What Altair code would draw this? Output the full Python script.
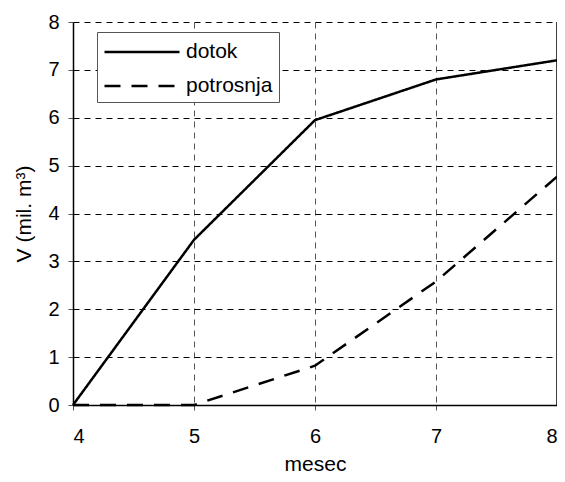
import altair as alt
import pandas as pd

meseci = [4, 5, 6, 7, 8]
dotok = [0, 3.45, 5.95, 6.8, 7.2]
potrosnja = [0, 0, 0.82, 2.58, 4.77]
serije = ["dotok", "potrosnja"]

rows = []
for m, d, p in zip(meseci, dotok, potrosnja):
    rows.append({"mesec": m, "V": d, "serija": serije[0]})
    rows.append({"mesec": m, "V": p, "serija": serije[1]})
df = pd.DataFrame(rows)

FONT = "Liberation Sans"

x = alt.X("mesec:Q", scale=alt.Scale(domain=[4, 8], nice=False),
          axis=alt.Axis(title="mesec", values=meseci, format="d", gridColor="#555",
                        gridDash=[6, 5], gridWidth=1, labelPadding=16, titlePadding=7))
y = alt.Y("V:Q", scale=alt.Scale(domain=[0, 8], nice=False),
          axis=alt.Axis(title="V (mil. m³)", values=list(range(0, 9)), format="d",
                        gridColor="black", gridDash=[6, 5], gridWidth=1,
                        labelPadding=9, titlePadding=13))

lines = alt.Chart(df).mark_line(strokeWidth=2.5, color="black").encode(
    x=x, y=y,
    strokeDash=alt.StrokeDash("serija:N", sort=serije,
                              scale=alt.Scale(domain=serije, range=[[1, 0], [16, 11]]),
                              legend=alt.Legend(title=None, orient="none", legendX=24, legendY=10,
                                                symbolType="M-1,0H5", symbolSize=625,
                                                symbolStrokeWidth=2.7, symbolStrokeColor="black",
                                                symbolFillColor="transparent",
                                                labelFontSize=21, labelFont=FONT, labelOffset=55,
                                                padding=6, strokeColor="#555", fillColor="white",
                                                rowPadding=10)),
)

border = alt.Chart(pd.DataFrame({"x": [meseci[-1]], "y0": [0], "y1": [8]})).mark_rule(
    color="black", strokeWidth=1.5).encode(x="x:Q", y="y0:Q", y2="y1:Q")

chart = alt.layer(lines, border).properties(
    width=484, height=383,
    padding={"left": 65, "top": 14, "right": 0, "bottom": 69},
    autosize=alt.AutoSizeParams(type="none"),
).configure_view(stroke=None).configure_axis(
    labelFont=FONT, titleFont=FONT, labelFontSize=20, titleFontSize=21,
    labelColor="black", titleColor="black", titleFontWeight="normal",
    domainColor="black", domainWidth=1.5, tickColor="#555", tickSize=5,
)

chart.save("out.html", embed_options={"renderer": "svg", "actions": False})
